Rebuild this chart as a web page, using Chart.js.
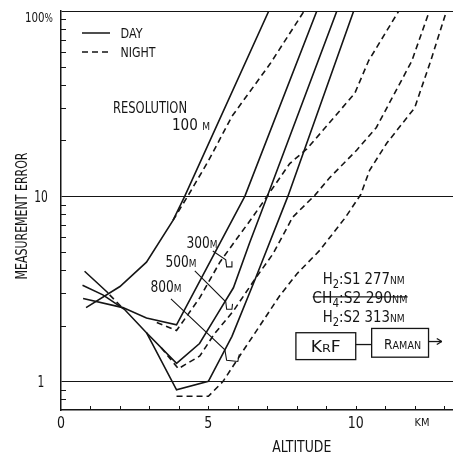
<!DOCTYPE html>
<html>
<head>
<meta charset="utf-8">
<script src="https://cdn.jsdelivr.net/npm/chart.js@4.4.1/dist/chart.umd.min.js"></script>
<style>
  html, body { margin: 0; background: #fff; }
  canvas { display: block; }
</style>
</head>
<body>
<canvas id="chart" width="453" height="457"></canvas>
<script>
// axis ticks
const xTickValues = [0, 5, 10, 12.25];
const xTickLabels = ['0', '5', '10', 'KM'];
const xMinorTicks = [1, 2, 3, 4, 5, 6, 7, 8, 9, 10, 11, 12, 13];
const yTickValues = [1, 10, 100];
const yTickLabels = ['1', '10', '100%'];
const yMinorTicks = [0.8, 0.9, 2, 3, 4, 5, 6, 7, 8, 9, 20, 30, 40, 50, 60, 70, 80, 90];

// [altitude km, measurement error %], null error = gap in the pen line
const day100 = [[0.85, 2.5], [2.0, 3.25], [2.9, 4.4], [3.8, 7.4], [4.2, 10], [7.05, 100]];
const night100 = [[3.8, 7.4], [4.3, 10], [5.0, 15.5], [5.8, 27], [7.1, 52], [8.25, 100]];
const day300 = [[0.75, 2.8], [2.1, 2.5], [2.9, 2.2], [3.92, 2.02], [6.24, 10], [8.68, 100]];
const night300 = [[3.25, 2.08], [3.92, 1.88], [4.71, 2.83], [5.39, 4.4], [6.0, 6.0], [6.5, 7.7], [7.05, 10.3],
  [7.76, 15], [8.34, 18], [8.88, 22.6], [9.97, 36], [10.44, 54], [11.46, 100]];
const day500 = [[0.73, 3.3], [1.42, 2.93], [2.15, 2.45], [2.9, 1.83], [3.92, 1.25], [4.7, 1.6], [5.3, 2.3],
  [5.85, 3.2], [6.4, 5.6], [7.0, 10], [9.36, 100]];
const night500 = [[3.4, 1.52], [3.98, 1.17], [4.71, 1.37], [5.2, 1.8], [5.85, 2.4], [6.6, 3.6], [7.2, 4.9],
  [7.86, 7.7], [8.61, 10.1], [9.12, 12.6], [10.03, 17.7], [10.7, 23.5], [11.9, 53.6], [12.5, 100]];
const day800 = [[0.8, 3.93], [1.6, 3.0], [2.0, null], [2.9, 1.83], [3.92, 0.9], [5.0, 1.0], [5.8, 1.75],
  [6.6, 3.6], [7.7, 10], [9.93, 100]];
const night800 = [[1.65, 2.93], [2.1, 2.48], [2.5, null], [3.92, 0.83], [5.0, 0.83], [5.5, 1.0], [6.1, 1.4],
  [6.75, 2.0], [7.42, 2.9], [8.0, 3.8], [8.78, 5.1], [9.63, 7.6], [10.17, 10.2], [10.47, 13.8],
  [11.05, 19.3], [12.0, 30], [12.54, 53.6], [13.08, 100]];

// label leader lines ending in the small hooks
const leader300 = [[5.15, 5.06], [5.59, 4.53], [5.62, 4.15], [5.78, 4.15], [5.8, 4.45]];
const leader500 = [[4.54, 3.95], [5.59, 2.69], [5.62, 2.45], [5.8, 2.45], [5.82, 2.62]];
const leader800 = [[3.73, 2.79], [5.56, 1.48], [5.62, 1.3], [6.0, 1.28], [6.05, 1.4]];

const INK = '#151515';
const FONT = '"DejaVu Sans Condensed", "Liberation Sans Narrow", "DejaVu Sans", sans-serif';

const toXY = pts => pts.map(([x, y]) => ({ x, y }));
const curve = (data, dashed, width = 1.6) => ({
    data: toXY(data),
    borderColor: INK,
    borderWidth: width,
    borderDash: dashed ? [6, 4] : [],
    pointRadius: 0,
    fill: false,
    tension: 0
});

// segs: [text, size, dy]; squeezed horizontally to width w
const rich = (ctx, segs, cx, cy, w, angle = 0) => {
    let total = 0;
    segs.forEach(s => { ctx.font = s[1] + 'px ' + FONT; total += ctx.measureText(s[0]).width; });
    const k = w ? w / total : 1;
    const top = Math.max(...segs.map(s => s[1]));
    ctx.save();
    ctx.translate(cx, cy);
    ctx.rotate(angle);
    ctx.scale(k, 1);
    ctx.fillStyle = INK;
    ctx.textAlign = 'left';
    ctx.textBaseline = 'alphabetic';
    let pos = -total / 2;
    segs.forEach(s => {
        ctx.font = s[1] + 'px ' + FONT;
        ctx.fillText(s[0], pos, top * 0.365 + (s[2] || 0));
        pos += ctx.measureText(s[0]).width;
    });
    ctx.restore();
};

const seg = (ctx, x1, y1, x2, y2) => {
    ctx.beginPath();
    ctx.moveTo(x1, y1);
    ctx.lineTo(x2, y2);
    ctx.stroke();
};

const annotations = {
    id: 'annotations',
    afterDraw(chart) {
        const { ctx, chartArea: a, scales: { x, y } } = chart;
        const px = v => x.getPixelForValue(v);
        const py = v => y.getPixelForValue(v);
        ctx.save();
        ctx.strokeStyle = INK;
        ctx.lineWidth = 1;

        // inward tick marks
        yMinorTicks.forEach(v => { const p = Math.round(py(v)) + 0.5; seg(ctx, a.left, p, a.left + 5, p); });
        xMinorTicks.forEach(v => { const p = Math.round(px(v)) + 0.5; seg(ctx, p, a.bottom, p, a.bottom - 4); });

        // tick labels
        xTickValues.forEach((v, i) => {
            const lbl = xTickLabels[i];
            const big = lbl !== 'KM';
            rich(ctx, [[lbl, big ? 16 : 11]], px(v), a.bottom + 12, lbl.length * (big ? 8 : 7.5));
        });
        yTickValues.forEach((v, i) => {
            const lbl = yTickLabels[i];
            if (lbl === '100%') {
                rich(ctx, [['100', 14], ['%', 12]], a.left - 22, a.top + 6, 28);
            } else {
                rich(ctx, [[lbl, 15]], a.left - 20, py(v), lbl.length * 6.8);
            }
        });

        // axis titles
        rich(ctx, [['MEASUREMENT ERROR', 16]], 21, 216, 127, -Math.PI / 2);
        rich(ctx, [['ALTITUDE', 16]], px(8.17), a.bottom + 36, 59);

        // legend
        ctx.lineWidth = 1.5;
        seg(ctx, a.left + 21, a.top + 22, a.left + 49, a.top + 22);
        ctx.setLineDash([6, 4]);
        seg(ctx, a.left + 21, a.top + 41, a.left + 49, a.top + 41);
        ctx.setLineDash([]);
        rich(ctx, [['DAY', 14]], a.left + 70.5, a.top + 22, 22);
        rich(ctx, [['NIGHT', 14]], a.left + 77, a.top + 41, 35);

        // resolution labels
        rich(ctx, [['RESOLUTION', 16]], px(3.02), py(30.4), 74);
        rich(ctx, [['100 ', 15], ['M', 10]], px(4.41), py(24.4), 38);
        rich(ctx, [['300', 15], ['M', 11]], px(4.78), py(5.65), 31);
        rich(ctx, [['500', 15], ['M', 11]], px(4.07), py(4.42), 31);
        rich(ctx, [['800', 15], ['M', 11]], px(3.56), py(3.24), 31);

        // Raman lines
        rich(ctx, [['H', 16], ['2', 12, 4], [':S1 277', 16], ['NM', 11]], px(10.27), py(3.62), 82);
        rich(ctx, [['CH', 16], ['4', 12, 4], [':S2 290', 16], ['NM', 11]], px(10.14), py(2.86), 95);
        rich(ctx, [['H', 16], ['2', 12, 4], [':S2 313', 16], ['NM', 11]], px(10.27), py(2.26), 82);
        ctx.lineWidth = 1.3;
        seg(ctx, px(8.54), py(2.86), px(11.76), py(2.86));

        // KrF -> Raman block diagram
        ctx.strokeRect(px(7.97), py(1.83), px(10.0) - px(7.97), py(1.31) - py(1.83));
        ctx.strokeRect(px(10.54), py(1.93), px(12.47) - px(10.54), py(1.35) - py(1.93));
        seg(ctx, px(10.0), py(1.58), px(10.54), py(1.58));
        const tip = px(12.92), ay = py(1.64);
        seg(ctx, px(12.47), ay, tip, ay);
        seg(ctx, tip - 5, ay - 3, tip, ay);
        seg(ctx, tip - 5, ay + 3, tip, ay);
        rich(ctx, [['K', 15], ['R', 11], ['F', 15]], px(8.98), py(1.54), 30);
        rich(ctx, [['R', 14], ['AMAN', 11]], px(11.59), py(1.6), 37);

        ctx.restore();
    }
};

new Chart(document.getElementById('chart'), {
    type: 'line',
    data: {
        datasets: [
            curve(day100, false), curve(night100, true),
            curve(day300, false), curve(night300, true),
            curve(day500, false), curve(night500, true),
            curve(day800, false), curve(night800, true),
            curve(leader300, false, 1.1), curve(leader500, false, 1.1), curve(leader800, false, 1.1)
        ]
    },
    options: {
        responsive: false,
        animation: false,
        events: [],
        layout: { padding: { top: 11, right: 0, left: 0, bottom: 0 } },
        plugins: { legend: { display: false }, tooltip: { enabled: false } },
        scales: {
            x: {
                type: 'linear',
                min: 0,
                max: 13.3,
                afterBuildTicks: s => { s.ticks = xTickValues.map(value => ({ value })); },
                afterFit: s => { s.height = 47; },
                grid: { display: false, drawTicks: false },
                border: { display: true, color: INK, width: 1.5 },
                ticks: { display: false }
            },
            y: {
                type: 'logarithmic',
                min: 0.7,
                max: 100,
                afterBuildTicks: s => { s.ticks = yTickValues.map(value => ({ value })); },
                afterFit: s => { s.width = 61; },
                grid: { color: INK, lineWidth: 1, drawTicks: false },
                border: { display: true, color: INK, width: 1.5 },
                ticks: { display: false }
            }
        }
    },
    plugins: [annotations]
});
</script>
</body>
</html>
